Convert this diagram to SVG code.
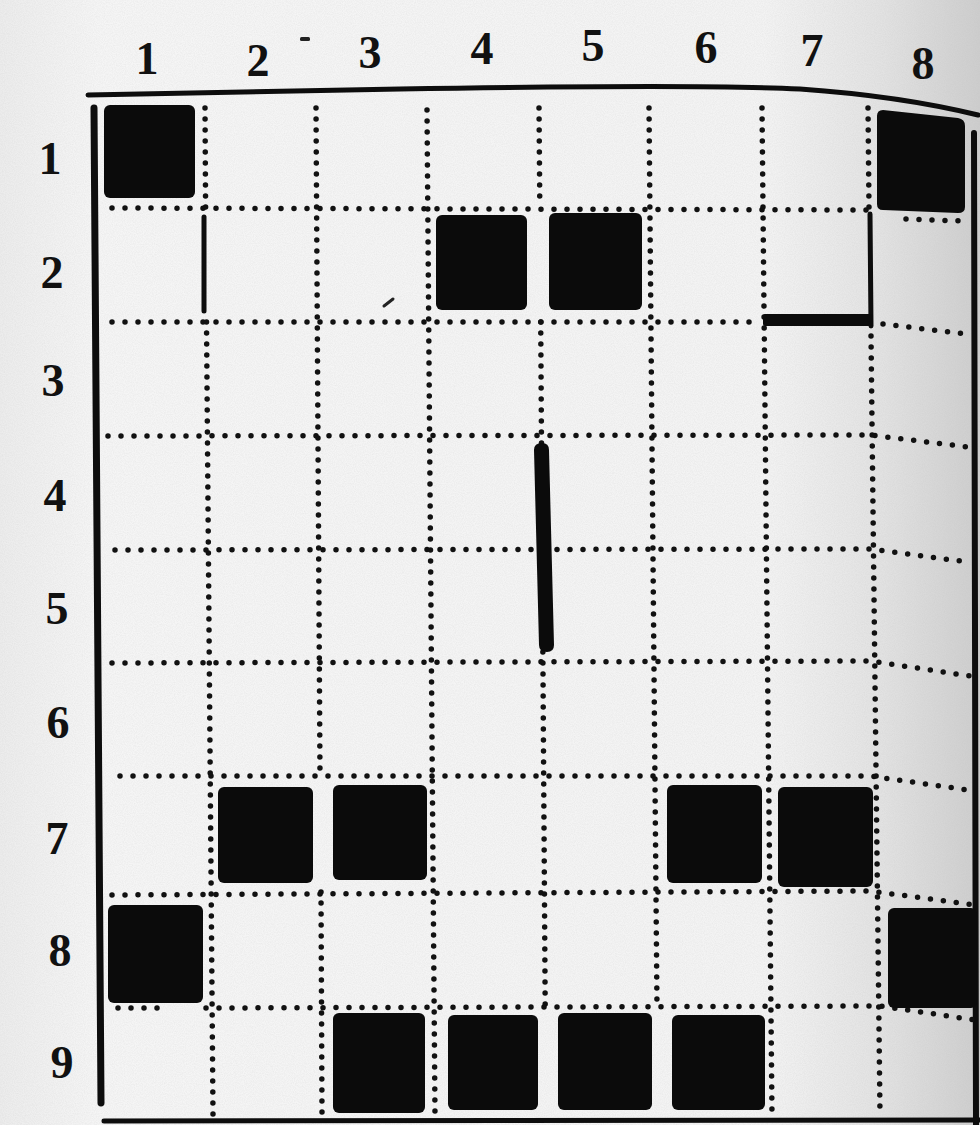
<svg xmlns="http://www.w3.org/2000/svg" width="980" height="1125" viewBox="0 0 980 1125">
  <defs>
    <linearGradient id="paper" x1="0" y1="0" x2="1" y2="0">
      <stop offset="0" stop-color="#ececec"/>
      <stop offset="0.1" stop-color="#f5f5f5"/>
      <stop offset="0.78" stop-color="#f3f3f3"/>
      <stop offset="0.9" stop-color="#e2e2e2"/>
      <stop offset="1" stop-color="#cdcdcd"/>
    </linearGradient>
    <filter id="grain" x="0" y="0" width="100%" height="100%">
      <feTurbulence type="fractalNoise" baseFrequency="0.9" numOctaves="2" seed="3" result="n"/>
      <feColorMatrix type="matrix" values="0 0 0 0 0.5  0 0 0 0 0.5  0 0 0 0 0.5  0 0 0 -1.6 1.1" />
    </filter>
    <style>
      .dot { fill: none; stroke: #111; stroke-width: 5.5; stroke-linecap: round; stroke-dasharray: 0 13; }
      .vdot { fill: none; stroke: #111; stroke-width: 5.5; stroke-linecap: round; stroke-dasharray: 0 11; }
      .solid { fill: none; stroke: #0d0d0d; stroke-linecap: round; }
      .blk { fill: #0b0b0b; }
      .lbl { font-family: "Liberation Serif", "DejaVu Serif", serif; font-weight: bold; font-size: 46px; fill: #111; text-anchor: middle; }
    </style>
  </defs>

  <rect width="980" height="1125" fill="url(#paper)"/>
  <rect width="980" height="1125" filter="url(#grain)" opacity="0.18"/>

  <!-- column labels -->
  <g id="col-labels">
    <text class="lbl" x="147" y="74">1</text>
    <text class="lbl" x="258" y="76">2</text>
    <text class="lbl" x="370" y="68">3</text>
    <text class="lbl" x="482" y="64">4</text>
    <text class="lbl" x="593" y="61">5</text>
    <text class="lbl" x="706" y="63">6</text>
    <text class="lbl" x="812" y="66">7</text>
    <text class="lbl" x="923" y="79">8</text>
  </g>

  <!-- row labels -->
  <g id="row-labels">
    <text class="lbl" x="50" y="174">1</text>
    <text class="lbl" x="52" y="288">2</text>
    <text class="lbl" x="53" y="396">3</text>
    <text class="lbl" x="55" y="511">4</text>
    <text class="lbl" x="57" y="624">5</text>
    <text class="lbl" x="58" y="738">6</text>
    <text class="lbl" x="57" y="854">7</text>
    <text class="lbl" x="60" y="966">8</text>
    <text class="lbl" x="62" y="1078">9</text>
  </g>

  <!-- borders -->
  <g id="borders">
    <path class="solid" stroke-width="5" d="M88,95 L400,89 Q700,84 800,89 Q900,96 978,115"/>
    <path class="solid" stroke-width="7" d="M94,108 L101,1103"/>
    <path class="solid" stroke-width="6" d="M974,133 L976,1125"/>
    <path class="solid" stroke-width="5" d="M104,1121 L980,1120"/>
  </g>

  <!-- dotted grid -->
  <g id="grid-h">
    <path class="dot" d="M112,208 L868,210"/>
    <path class="dot" d="M906,219 L962,221"/>
    <path class="dot" d="M112,322 L758,322"/>
    <path class="dot" d="M883,324 L966,334"/>
    <path class="dot" d="M108,436 L870,435 L968,447"/>
    <path class="dot" d="M115,550 L870,549 L968,562"/>
    <path class="dot" d="M112,663 L870,661 L970,676"/>
    <path class="dot" d="M120,776 L870,776 L968,790"/>
    <path class="dot" d="M112,895 L870,891 L975,905"/>
    <path class="dot" d="M118,1008 L165,1008"/>
    <path class="dot" d="M206,1008 L880,1006 L975,1020"/>
  </g>
  <g id="grid-v">
    <path class="vdot" d="M205,108 L205.6,208"/>
    <path class="solid" stroke-width="5" d="M204,217 L204,311"/>
    <path class="vdot" d="M206.5,322 L213,1115"/>
    <path class="vdot" d="M316,108 L320,776"/>
    <path class="vdot" d="M321,892 L322,1115"/>
    <path class="vdot" d="M427,110 L435,1115"/>
    <path class="vdot" d="M539,108 L539.8,205"/>
    <path class="vdot" d="M540.7,322 L545.2,1008"/>
    <path class="vdot" d="M649,108 L657,1008"/>
    <path class="vdot" d="M762,108 L772,1115"/>
    <path class="vdot" d="M868,108 L869,208"/>
    <path class="solid" stroke-width="5" d="M870,214 L871,326"/>
    <path class="vdot" d="M871,336 L880,1115"/>
  </g>

  <!-- heavy bars -->
  <g id="bars">
    <rect class="blk" x="763" y="314" width="110" height="12" rx="2"/>
    <path class="blk" d="M534,450 Q534,443 542,443 Q549,443 549,450 L554,645 Q554,652 547,652 Q539,652 539,645 Z"/>
  </g>

  <!-- black squares -->
  <g id="squares">
    <rect id="sq-1-1" class="blk" x="104" y="105" width="91" height="93" rx="6"/>
    <path id="sq-8-1" class="blk" d="M883,110 L958,118 Q965,119 965,126 L965,207 Q965,213 958,213 L883,210 Q877,210 877,204 L877,116 Q877,110 883,110 Z"/>
    <rect id="sq-4-2" class="blk" x="436" y="215" width="91" height="95" rx="6"/>
    <rect id="sq-5-2" class="blk" x="549" y="213" width="93" height="97" rx="6"/>
    <rect id="sq-2-7" class="blk" x="218" y="787" width="95" height="96" rx="6"/>
    <rect id="sq-3-7" class="blk" x="333" y="785" width="94" height="95" rx="6"/>
    <rect id="sq-6-7" class="blk" x="667" y="785" width="95" height="98" rx="6"/>
    <rect id="sq-7-7" class="blk" x="778" y="787" width="95" height="100" rx="6"/>
    <rect id="sq-1-8" class="blk" x="108" y="905" width="95" height="98" rx="6"/>
    <rect id="sq-8-8" class="blk" x="888" y="908" width="89" height="100" rx="6"/>
    <rect id="sq-3-9" class="blk" x="333" y="1013" width="92" height="100" rx="6"/>
    <rect id="sq-4-9" class="blk" x="448" y="1015" width="90" height="95" rx="6"/>
    <rect id="sq-5-9" class="blk" x="558" y="1013" width="94" height="97" rx="6"/>
    <rect id="sq-6-9" class="blk" x="672" y="1015" width="93" height="95" rx="6"/>
  </g>

  <!-- specks -->
  <g id="specks" fill="#222">
    <rect x="300" y="37" width="10" height="4" rx="1.5"/>
    <path d="M384,306 L393,299" stroke="#222" stroke-width="3" stroke-linecap="round"/>
  </g>
</svg>
